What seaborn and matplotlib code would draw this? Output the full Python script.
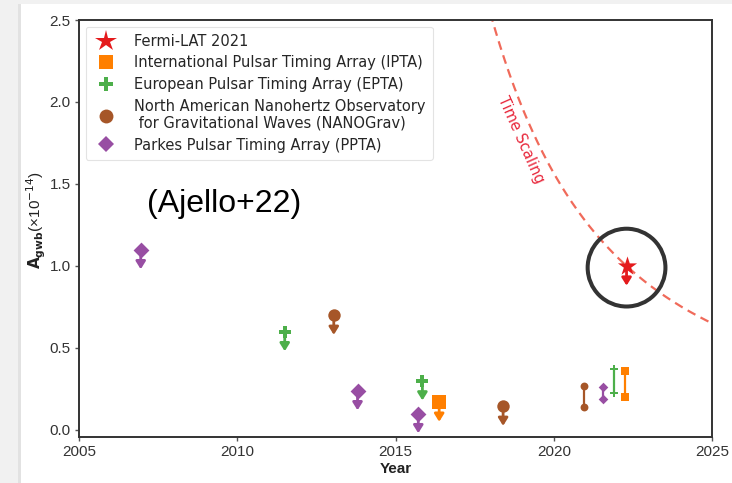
import numpy as np
import matplotlib
matplotlib.use("Agg")
import matplotlib.pyplot as plt
from matplotlib.lines import Line2D
from matplotlib.patches import Rectangle
import seaborn as sns

# ---- upper limits on the GWB amplitude (units of 1e-14) ----
ppta_year = [2006.95, 2013.8, 2015.72]
ppta_amp = [1.10, 0.24, 0.10]
epta_year = [2011.5, 2015.85]
epta_amp = [0.60, 0.30]
nano_year = [2013.05, 2018.4]
nano_amp = [0.70, 0.145]
ipta_year = [2016.38]
ipta_amp = [0.17]
fermi_year = [2022.3]
fermi_amp = [1.00]

# ---- detections of a common process: (year, low, high) ----
nano_rng_year = [2020.97]
nano_rng = [(0.137, 0.267)]
ppta_rng_year = [2021.56]
ppta_rng = [(0.19, 0.26)]
epta_rng_year = [2021.9]
epta_rng = [(0.227, 0.374)]
ipta_rng_year = [2022.24]
ipta_rng = [(0.20, 0.36)]

# time-scaling of the limit, A ~ (T - T0)^(-13/6), anchored on the Fermi-LAT point
scaling_t0 = 2010.0
scaling_index = -13.0 / 6.0
scaling_years = np.linspace(2017.6, 2025.0, 200)

x_ticks = [2005, 2010, 2015, 2020, 2025]
y_ticks = [0.0, 0.5, 1.0, 1.5, 2.0, 2.5]

RED = "#e41a1c"
ORANGE = "#ff7f00"
GREEN = "#4daf4a"
BROWN = "#a65628"
PURPLE = "#984ea3"

sns.set_style("ticks")
plt.rcParams["font.family"] = ["DejaVu Sans"]

fig = plt.figure(figsize=(7.32, 4.83), dpi=100)
fig.patch.set_facecolor("white")
# light frame strips on the left and top edge
fig.patches.append(Rectangle((0, 0), 18 / 732, 1, transform=fig.transFigure,
                             facecolor="#f1f1f1", edgecolor="none", zorder=0))
fig.patches.append(Rectangle((18 / 732, 0), 3 / 732, 1, transform=fig.transFigure,
                             facecolor="#e2e2e2", edgecolor="none", zorder=0))
fig.patches.append(Rectangle((0, 1 - 4 / 483), 1, 4 / 483, transform=fig.transFigure,
                             facecolor="#f1f1f1", edgecolor="none", zorder=0))

ax = fig.add_axes([79 / 732, 1 - 437 / 483, 633 / 732, 417 / 483])

ARROW = 0.12


def limits(years, amps, color, marker, size):
    sns.scatterplot(x=years, y=amps, color=color, marker=marker, s=size,
                    linewidth=0, ax=ax, zorder=4)
    for yr, a in zip(years, amps):
        ax.annotate("", xy=(yr, a - ARROW), xytext=(yr, a),
                    arrowprops=dict(arrowstyle="-|>,head_length=0.45,head_width=0.28",
                                    lw=2.0, color=color, shrinkA=0, shrinkB=0,
                                    mutation_scale=10),
                    zorder=3)


def ranges(years, rng, color, marker, size):
    lo = [r[0] for r in rng]
    hi = [r[1] for r in rng]
    ax.vlines(years, lo, hi, color=color, lw=1.6, zorder=3)
    sns.scatterplot(x=list(years) * 2, y=lo + hi, color=color, marker=marker,
                    s=size, linewidth=0, ax=ax, zorder=4)


limits(ppta_year, ppta_amp, PURPLE, "D", 65)
limits(epta_year, epta_amp, GREEN, "P", 75)
limits(nano_year, nano_amp, BROWN, "o", 80)
limits(ipta_year, ipta_amp, ORANGE, "s", 90)
limits(fermi_year, fermi_amp, RED, "*", 210)

ranges(nano_rng_year, nano_rng, BROWN, "o", 32)
ranges(ppta_rng_year, ppta_rng, PURPLE, "D", 24)
ranges(epta_rng_year, epta_rng, GREEN, "P", 30)
ranges(ipta_rng_year, ipta_rng, ORANGE, "s", 30)

# time-scaling curve
scaling_amp = fermi_amp[0] * ((scaling_years - scaling_t0) /
                              (fermi_year[0] - scaling_t0)) ** scaling_index
sns.lineplot(x=scaling_years, y=scaling_amp, color="#f06a5a", lw=1.6,
             dashes=False, ax=ax, zorder=2)
ax.lines[-1].set_dashes([4, 2.6])
ax.text(2018.95, 1.77, "Time Scaling", rotation=-66, color="#e8283c",
        fontsize=10.5, ha="center", va="center")

# highlight ring around the Fermi-LAT limit
ax.scatter(fermi_year, [fermi_amp[0] - 0.01], s=56 ** 2, facecolors="none",
           edgecolors="#333333", linewidths=2.9, zorder=5)

ax.text(2009.6, 1.375, "(Ajello+22)", fontsize=23, family="Liberation Sans",
        ha="center", va="center", color="black")

ax.set_xlim(2005, 2025)
ax.set_ylim(-0.043, 2.5)
ax.set_xticks(x_ticks)
ax.set_yticks(y_ticks)
ax.set_xticklabels([str(t) for t in x_ticks])
ax.set_yticklabels([f"{t:.1f}" for t in y_ticks])
for lab in ax.get_xticklabels() + ax.get_yticklabels():
    lab.set_fontfamily("Liberation Sans")
    lab.set_fontsize(11)
    lab.set_color("#333333")
ax.tick_params(length=3, width=1, color="#555555", pad=3)
for sp in ax.spines.values():
    sp.set_visible(True)
    sp.set_color("#333333")
    sp.set_linewidth(1.4)

ax.set_xlabel("Year", fontsize=11, fontweight="bold", family="Liberation Sans",
              color="#222222", labelpad=2)
fig.text(36 / 732, 1 - 220 / 483, r"$\mathbf{A_{gwb}}$(×10$^{-14}$)",
         fontsize=11, family="Liberation Sans", color="#222222",
         rotation=90, ha="center", va="center")

handles = [
    Line2D([], [], ls="none", marker="*", ms=16, color=RED, mew=0),
    Line2D([], [], ls="none", marker="s", ms=9.5, color=ORANGE, mew=0),
    Line2D([], [], ls="none", marker="P", ms=10, color=GREEN, mew=0),
    Line2D([], [], ls="none", marker="o", ms=10, color=BROWN, mew=0),
    Line2D([], [], ls="none", marker="D", ms=8.5, color=PURPLE, mew=0),
]
labels = [
    "Fermi-LAT 2021",
    "International Pulsar Timing Array (IPTA)",
    "European Pulsar Timing Array (EPTA)",
    "North American Nanohertz Observatory\n for Gravitational Waves (NANOGrav)",
    "Parkes Pulsar Timing Array (PPTA)",
]
leg = ax.legend(handles, labels, loc="upper left", fontsize=10.5, frameon=True,
                borderaxespad=0.45, handletextpad=1.05, labelspacing=0.45,
                handlelength=1.8, borderpad=0.5)
leg.get_frame().set_edgecolor("#dddddd")
leg.get_frame().set_linewidth(0.8)

fig.savefig("out.png", dpi=100)
